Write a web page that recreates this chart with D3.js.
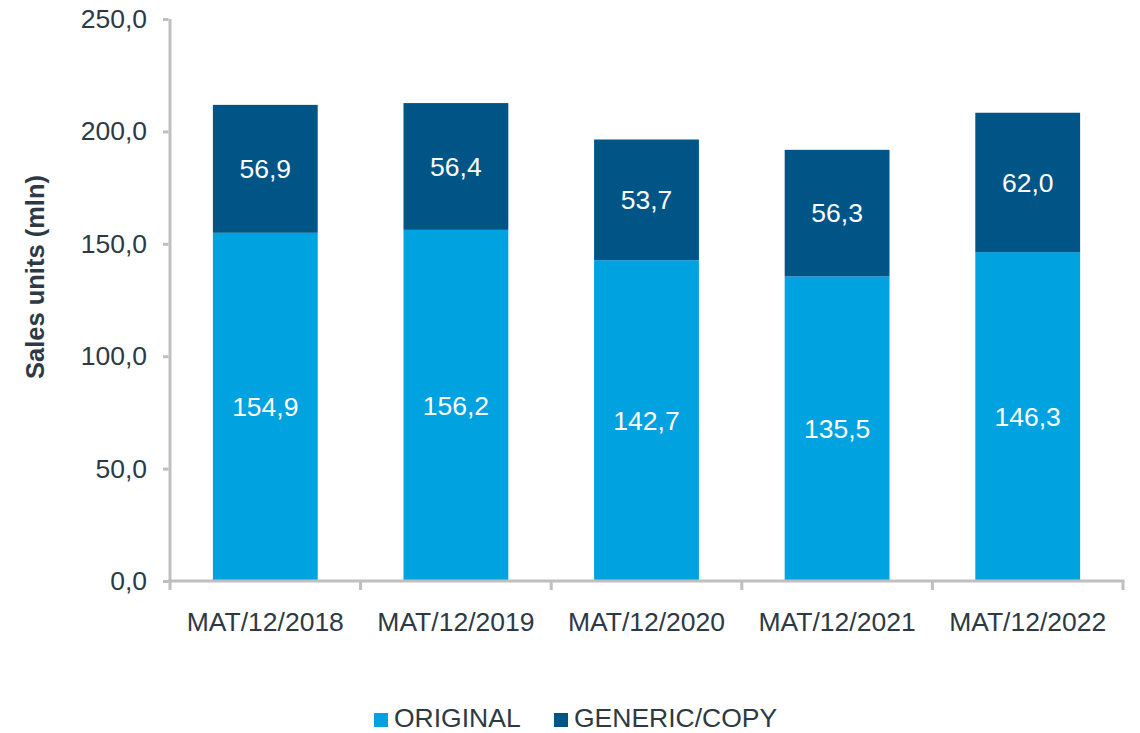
<!DOCTYPE html>
<html>
<head>
<meta charset="utf-8">
<script src="https://cdn.jsdelivr.net/npm/d3@7"></script>
<style>
  body { margin: 0; background: #fff; }
  text { font-family: "Liberation Sans", Arial, sans-serif; }
</style>
</head>
<body>
<div id="chart-area"></div>
<script>
// chart values
var categories = ["MAT/12/2018", "MAT/12/2019", "MAT/12/2020", "MAT/12/2021", "MAT/12/2022"];
var original = [154.9, 156.2, 142.7, 135.5, 146.3];
var generic = [56.9, 56.4, 53.7, 56.3, 62.0];
var yTicks = [0, 50, 100, 150, 200, 250];
var seriesNames = ["ORIGINAL", "GENERIC/COPY"];

var colors = {ORIGINAL: "#00a3e0", "GENERIC/COPY": "#005587"};
var textColor = "#2d3a44";
var axisColor = "#bfbfbf";
var fontSize = "26.5px";

var width = 1140, height = 733;
var margin = {top: 19, right: 17, bottom: 152, left: 170};
var innerW = width - margin.left - margin.right;
var innerH = height - margin.top - margin.bottom;

var svg = d3.select("#chart-area")
    .append("svg")
        .attr("width", width)
        .attr("height", height);

var g = svg.append("g")
    .attr("transform", "translate(" + margin.left + "," + margin.top + ")");

var x = d3.scaleBand().domain(categories).range([0, innerW]).paddingInner(0.45).paddingOuter(0.225);
var xBand = d3.scaleBand().domain(categories).range([0, innerW]);
var y = d3.scaleLinear().domain([0, 250]).range([innerH, 0]);

var fmt = function(v) { return d3.format(".1f")(v).replace(".", ","); };

var data = categories.map(function(c, i) {
    return {cat: c, ORIGINAL: original[i], "GENERIC/COPY": generic[i]};
});
var stacked = d3.stack().keys(seriesNames)(data);

// bars
stacked.forEach(function(layer) {
    g.append("g").selectAll("rect")
        .data(layer)
        .enter().append("rect")
            .attr("x", function(d) { return x(d.data.cat); })
            .attr("width", x.bandwidth())
            .attr("y", function(d) { return y(d[1]); })
            .attr("height", function(d) { return y(d[0]) - y(d[1]); })
            .attr("fill", colors[layer.key]);

    g.append("g").selectAll("text")
        .data(layer)
        .enter().append("text")
            .attr("x", function(d) { return x(d.data.cat) + x.bandwidth() / 2; })
            .attr("y", function(d) { return y((d[0] + d[1]) / 2); })
            .attr("dy", "0.35em")
            .attr("text-anchor", "middle")
            .attr("font-size", fontSize)
            .attr("fill", "#fff")
            .text(function(d) { return fmt(d[1] - d[0]); });
});

// y axis
var leftAxis = d3.axisLeft(y).tickValues(yTicks).tickSize(7).tickPadding(16).tickFormat(fmt);
var yAxisG = g.append("g").call(leftAxis);
yAxisG.select(".domain").attr("stroke", axisColor).attr("stroke-width", 3).attr("d", "M0," + (innerH + 1.5) + "V0");
yAxisG.selectAll(".tick line").attr("stroke", axisColor).attr("stroke-width", 3).attr("x1", -1.5);
yAxisG.selectAll(".tick text").attr("fill", textColor).attr("font-size", fontSize)
    .attr("font-family", "Liberation Sans, Arial, sans-serif");

// x axis
var bottomAxis = d3.axisBottom(xBand).tickSize(0).tickPadding(31);
var xAxisG = g.append("g")
    .attr("transform", "translate(0," + innerH + ")")
    .call(bottomAxis);
xAxisG.select(".domain").attr("stroke", axisColor).attr("stroke-width", 3).attr("d", "M-2,0H" + (innerW + 1.5));
xAxisG.selectAll(".tick text").attr("fill", textColor).attr("font-size", fontSize)
    .attr("font-family", "Liberation Sans, Arial, sans-serif");
// boundary ticks between categories
var bounds = categories.map(function(c) { return xBand(c); }).concat([innerW]);
xAxisG.append("g").selectAll("line")
    .data(bounds)
    .enter().append("line")
        .attr("x1", function(d) { return d; })
        .attr("x2", function(d) { return d; })
        .attr("y1", 0)
        .attr("y2", 9)
        .attr("stroke", axisColor)
        .attr("stroke-width", 3);

// y axis title
g.append("text")
    .attr("transform", "rotate(-90)")
    .attr("x", -258)
    .attr("y", -126)
    .attr("text-anchor", "middle")
    .attr("font-size", "25.5px")
    .attr("font-weight", "bold")
    .attr("fill", textColor)
    .text("Sales units (mln)");

// legend
var legend = svg.append("g").attr("transform", "translate(374,727)");
var legendX = [0, 180];
seriesNames.forEach(function(name, i) {
    var row = legend.append("g").attr("transform", "translate(" + legendX[i] + ",0)");
    row.append("rect")
        .attr("x", 0)
        .attr("y", -14)
        .attr("width", 14)
        .attr("height", 14)
        .attr("fill", colors[name]);
    row.append("text")
        .attr("x", 20)
        .attr("y", 0)
        .attr("font-size", fontSize)
        .attr("fill", textColor)
        .text(name);
});
</script>
</body>
</html>
